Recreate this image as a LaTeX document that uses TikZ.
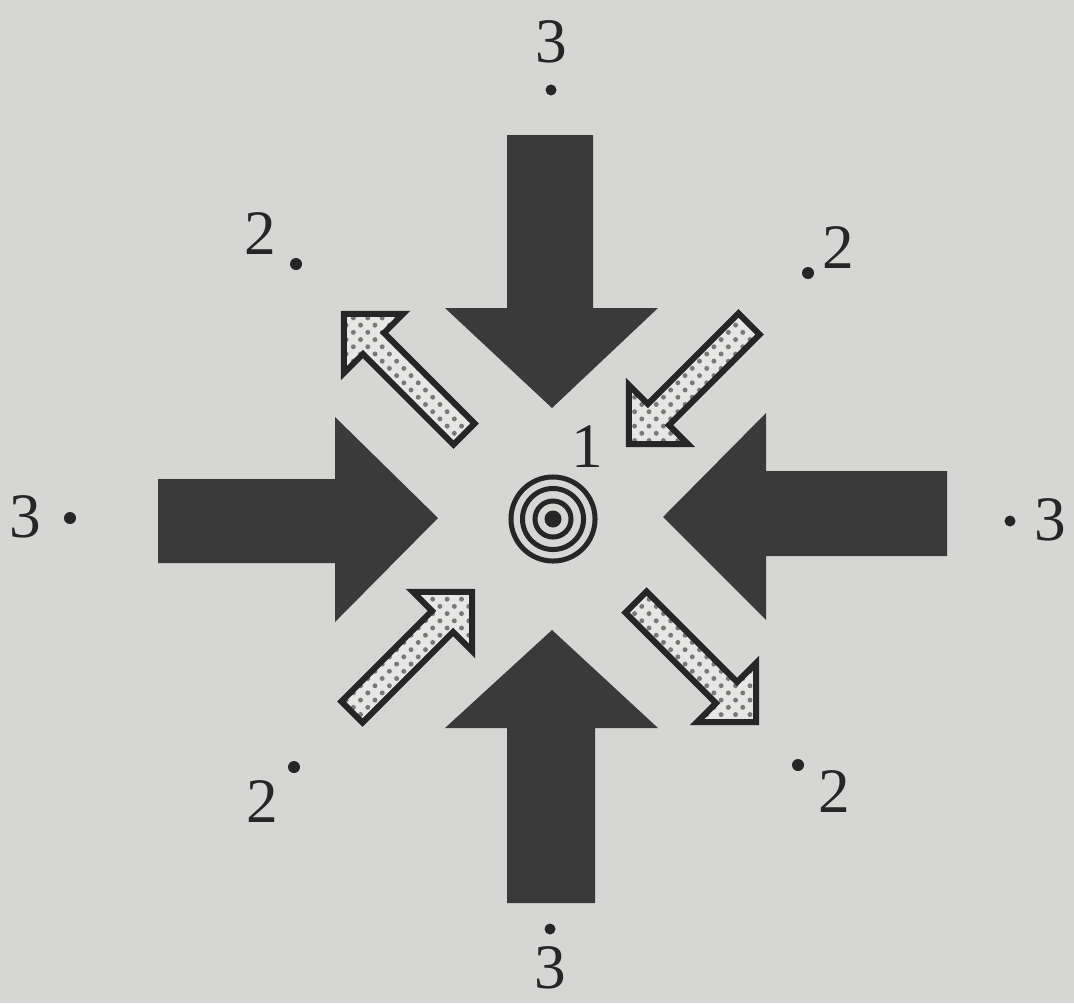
\documentclass[tikz,border=0pt]{standalone}
\usepackage{fontspec}
\setmainfont{Liberation Serif}
\usetikzlibrary{patterns.meta}
\definecolor{bgcol}{RGB}{214,214,212}
\definecolor{darkcol}{RGB}{58,58,58}
\definecolor{inkcol}{RGB}{38,38,38}
\definecolor{lightfill}{RGB}{230,230,228}
\definecolor{dotcol}{RGB}{120,120,120}
\tikzset{
  bigarrow/.style={fill=darkcol},
  smallarrow/.style={draw=inkcol, line width=0.06cm, line join=miter,
    preaction={fill=lightfill},
    pattern={Dots[distance=2.9pt, radius=0.7pt, angle=45]}, pattern color=dotcol},
  lbl/.style={inner sep=0pt, text=inkcol, font=\fontsize{18}{20}\selectfont},
  pt/.style={fill=inkcol},
  ring/.style={draw=inkcol, line width=0.05cm}
}
\begin{document}
\begin{tikzpicture}[x=0.01cm, y=-0.01cm]
\fill[bgcol] (0,0) rectangle (1074,1003);
\useasboundingbox (0,0) rectangle (1074,1003);

% big dark arrows
\fill[bigarrow] (507,135) -- (593,135) -- (593,308) -- (658,308) -- (552,408) -- (445,308) -- (507,308) -- cycle;
\fill[bigarrow] (507,903) -- (595,903) -- (595,728) -- (658,728) -- (552,630) -- (445,728) -- (507,728) -- cycle;
\fill[bigarrow] (158,479) -- (335,479) -- (335,417) -- (438,518) -- (335,622) -- (335,563) -- (158,563) -- cycle;
\fill[bigarrow] (947,471) -- (766,471) -- (766,413) -- (663,517) -- (766,620) -- (766,556) -- (947,556) -- cycle;

% small dotted arrows
\foreach \tx/\ty/\ang in {464/434/135, 749/324/225, 352/712/45, 636/602/-45}{
  \begin{scope}[shift={(\tx,\ty)}, rotate=\ang]
    \path[smallarrow] (0,-15) -- (128,-15) -- (128,-42) -- (170,0) -- (128,42) -- (128,15) -- (0,15) -- cycle;
  \end{scope}
}

% concentric circles
\coordinate (c) at (553,519);
\draw[ring] (c) circle[radius=0.42cm];
\draw[ring] (c) circle[radius=0.305cm];
\draw[ring] (c) circle[radius=0.18cm];
\fill[inkcol] (c) circle[radius=0.085cm];
\node[lbl] (one) at (587,447) {1};

% labels and dots
\node[lbl] (t3) at (551,42) {3};
\fill[pt] (551,90) circle[radius=0.055cm];
\node[lbl] (b3) at (550,968) {3};
\fill[pt] (550,929) circle[radius=0.055cm];
\node[lbl] (l3) at (25,517) {3};
\fill[pt] (70,518) circle[radius=0.06cm];
\node[lbl] (r3) at (1050,520) {3};
\fill[pt] (1010,521) circle[radius=0.055cm];

\node[lbl] (tl2) at (260,234) {2};
\fill[pt] (296,264) circle[radius=0.06cm];
\node[lbl] (tr2) at (838,248) {2};
\fill[pt] (808,273) circle[radius=0.06cm];
\node[lbl] (bl2) at (262,802) {2};
\fill[pt] (294,767) circle[radius=0.06cm];
\node[lbl] (br2) at (834,792) {2};
\fill[pt] (798,765) circle[radius=0.06cm];
\end{tikzpicture}
\end{document}
